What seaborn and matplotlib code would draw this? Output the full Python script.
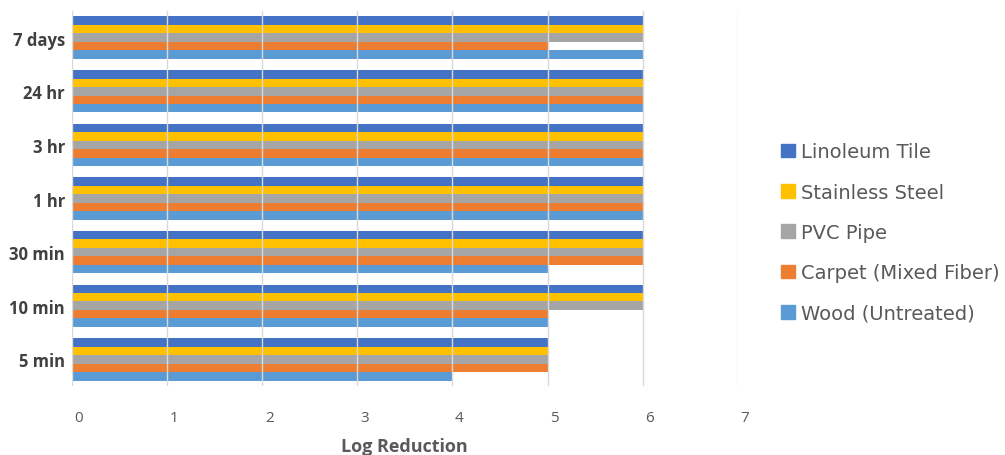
import matplotlib.pyplot as plt
import matplotlib.transforms as mtransforms
import numpy as np
import pandas as pd
import seaborn as sns

# data
times = ["7 days", "24 hr", "3 hr", "1 hr", "30 min", "10 min", "5 min"]
materials = ["Linoleum Tile", "Stainless Steel", "PVC Pipe",
             "Carpet (Mixed Fiber)", "Wood (Untreated)"]
linoleum = [6, 6, 6, 6, 6, 6, 5]
steel = [6, 6, 6, 6, 6, 6, 5]
pvc = [6, 6, 6, 6, 6, 6, 5]
carpet = [5, 6, 6, 6, 6, 5, 5]
wood = [6, 6, 6, 6, 5, 5, 4]
colors = ["#4472C4", "#FFC000", "#A5A5A5", "#ED7D31", "#5B9BD5"]

rows = []
for mat, vals in zip(materials, [linoleum, steel, pvc, carpet, wood]):
    for t, v in zip(times, vals):
        rows.append({"time": t, "material": mat, "log_red": v})
df = pd.DataFrame(rows)

sns.set_style("white")
plt.rcParams["font.family"] = ["Open Sans", "DejaVu Sans"]

fig = plt.figure(figsize=(10.05, 4.56), dpi=100)
ax = fig.add_axes([0.0716, 0.151, 0.6625, 0.823])

sns.barplot(data=df, y="time", x="log_red", hue="material",
            order=times, hue_order=materials, palette=colors,
            orient="h", width=0.79, saturation=1, linewidth=0,
            ax=ax, legend=False)

ax.set_xlim(0, 7)
ax.set_xticks(range(8))
ax.grid(axis="x", color="#d9d9d9", linewidth=1.0)
ax.set_axisbelow(False)
for s in ax.spines.values():
    s.set_visible(False)
ax.tick_params(axis="x", length=0, pad=17, labelsize=11, labelcolor="#595959")
ax.tick_params(axis="y", length=0, pad=5, labelsize=12, labelcolor="#404040")
shift = mtransforms.ScaledTranslation(7 / 100, 0, fig.dpi_scale_trans)
for lab in ax.get_xticklabels():
    lab.set_transform(lab.get_transform() + shift)
for lab in ax.get_yticklabels():
    lab.set_fontweight("bold")
ax.set_ylabel("")
ax.set_xlabel("Log Reduction", fontsize=13, fontweight="bold",
              color="#595959", labelpad=9)

handles = [plt.Rectangle((0, 0), 1, 1, color=c) for c in colors]
fig.legend(handles, materials, loc="center left", bbox_to_anchor=(0.76, 0.488),
           frameon=False, labelcolor="#595959",
           prop={"family": "DejaVu Sans", "size": 14},
           handlelength=0.7, handleheight=0.7, handletextpad=0.3,
           labelspacing=1.1)

plt.savefig("out.png", dpi=100)
